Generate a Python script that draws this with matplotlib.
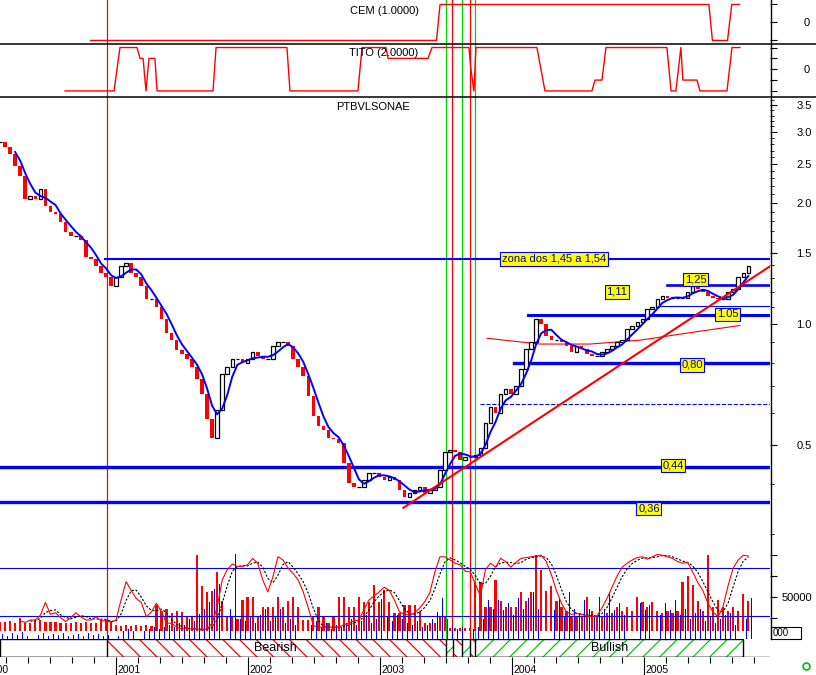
import numpy as np
import pandas as pd
import matplotlib
matplotlib.use('Agg')
import matplotlib.pyplot as plt
from matplotlib.lines import Line2D
from matplotlib.patches import Rectangle
from matplotlib.ticker import FixedLocator, FixedFormatter, NullFormatter

plt.rcParams['font.family'] = ['Liberation Sans', 'DejaVu Sans']
plt.rcParams['hatch.linewidth'] = 0.9

# ---- data (one value every 14 days) ----
close = [2.84, 2.75, 2.65, 2.47, 2.33, 2.04, 2.08, 2.04, 2.16, 1.96,
         1.90, 1.88, 1.79, 1.69, 1.65, 1.65, 1.62, 1.47, 1.45, 1.39,
         1.34, 1.31, 1.24, 1.31, 1.39, 1.42, 1.34, 1.31, 1.24, 1.15,
         1.15, 1.10, 1.03, 0.95, 0.91, 0.86, 0.84, 0.815, 0.78, 0.73,
         0.67, 0.58, 0.52, 0.61, 0.75, 0.78, 0.815, 0.815, 0.80, 0.815,
         0.85, 0.83, 0.815, 0.815, 0.88, 0.90, 0.90, 0.88, 0.815, 0.78,
         0.74, 0.66, 0.59, 0.555, 0.545, 0.52, 0.515, 0.506, 0.451, 0.402,
         0.393, 0.393, 0.409, 0.426, 0.426, 0.416, 0.409, 0.416, 0.409, 0.386,
         0.371, 0.379, 0.386, 0.393, 0.379, 0.386, 0.393, 0.433, 0.478, 0.486,
         0.478, 0.459, 0.467, 0.467, 0.472, 0.49, 0.567, 0.622, 0.60, 0.67,
         0.686, 0.67, 0.70, 0.77, 0.863, 0.90, 1.025, 1.00, 0.93, 0.91,
         0.91, 0.90, 0.88, 0.85, 0.88, 0.863, 0.84, 0.83, 0.83, 0.85,
         0.863, 0.88, 0.90, 0.91, 0.968, 0.985, 1.008, 1.025, 1.087, 1.10,
         1.15, 1.17, 1.16, 1.16, 1.16, 1.16, 1.20, 1.24, 1.22, 1.20,
         1.17, 1.16, 1.15, 1.15, 1.20, 1.22, 1.31, 1.34, 1.39]

osc = [np.nan, np.nan, np.nan, np.nan, 14, 12, 15, 15, 21, 37,
       22, 24, 18, 13, 18, 24, 19, 15, 15, 19,
       14, 14, 12, 15, 40, 63, 52, 42, 37, 19,
       25, 36, 25, 11, 11, 6, 4, 4, 4, 4,
       2, 4, 11, 31, 65, 78, 85, 82, 82, 84,
       92, 86, 65, 50, 69, 94, 90, 80, 73, 65,
       50, 30, 8, 6, 6, 6, 6, 6, 9, 11,
       14, 15, 28, 40, 45, 50, 56, 52, 40, 25,
       22, 21, 24, 30, 38, 49, 75, 94, 94, 90,
       86, 84, 76, 75, 60, 45, 78, 86, 81, 92,
       88, 81, 87, 92, 93, 94, 95, 96, 88, 72,
       52, 36, 25, 22, 23, 22, 20, 19, 20, 30,
       42, 56, 70, 81, 86, 90, 93, 94, 91, 94,
       97, 96, 94, 92, 88, 86, 87, 75, 62, 52,
       36, 25, 19, 32, 58, 80, 90, 96, 95]

# volume in thousands of shares
vol_red = [11, 11, 12, 10, 16, 10, 10, 13, 13, 11,
           11, 11, 10, 10, 10, 11, 10, 11, 10, 10,
           13, 13, 12, 7, 6, 7, 6, 7, 6, 7,
           6, 31, 24, 26, 22, 24, 23, 17, 17, 91,
           53, 46, 48, 70, 36, 17, 17, 14, 37, 41,
           41, 17, 29, 29, 29, 41, 29, 36, 41, 29,
           13, 13, 17, 29, 17, 10, 17, 41, 41, 29,
           29, 41, 34, 34, 55, 34, 49, 34, 22, 22,
           31, 31, 31, 24, 10, 10, 10, 17, 17, 4,
           4, 4, 4, 4, 58, 58, 29, 29, 61, 36,
           29, 29, 29, 46, 36, 46, 91, 73, 48, 53,
           36, 29, 24, 17, 17, 17, 41, 24, 17, 17,
           22, 22, 29, 24, 29, 24, 41, 34, 29, 34,
           24, 22, 24, 22, 24, 58, 65, 55, 36, 24,
           91, 29, 37, 29, 24, 29, 24, 44, 36]

vol_blue = [6, 4, 7, 5, 8, 4, 6, 5, 7, 4,
            6, 5, 7, 4, 5, 6, 4, 7, 5, 6,
            4, 5, 7, 4, 10, 12, 10, 12, 10, 12,
            14, 12, 14, 17, 14, 19, 17, 24, 22, 30,
            36, 44, 59, 65, 101, 36, 101, 24, 22, 26,
            19, 29, 36, 22, 26, 36, 19, 24, 17, 14,
            19, 17, 22, 14, 19, 12, 17, 14, 19, 24,
            17, 22, 29, 19, 24, 48, 26, 22, 29, 24,
            19, 17, 22, 14, 17, 24, 32, 49, 24, 17,
            12, 14, 10, 12, 14, 24, 46, 36, 47, 34,
            43, 29, 49, 36, 49, 56, 36, 29, 43, 34,
            48, 26, 56, 36, 31, 46, 36, 29, 50, 36,
            56, 34, 43, 29, 48, 36, 43, 34, 41, 48,
            29, 43, 34, 46, 29, 36, 24, 31, 36, 22,
            26, 19, 24, 29, 31, 17, 46, 24, 49]

dates = pd.date_range('2000-02-15', periods=len(close), freq='14D')

# indicator panels (fractional years, values)
cem_t = [2000.811, 2003.431, 2003.458, 2005.495, 2005.522, 2005.636, 2005.668, 2005.727]
cem_v = [-1, -1, 1, 1, -1, -1, 1, 1]
tito_t = [2000.617, 2000.988, 2001.033, 2001.162, 2001.185, 2001.208, 2001.230, 2001.253,
          2001.298, 2001.314, 2001.738, 2001.761, 2002.298, 2002.321, 2002.836, 2002.867,
          2003.048, 2003.064, 2003.367, 2003.397, 2003.677, 2003.692, 2003.715, 2003.730,
          2004.192, 2004.253, 2004.609, 2004.632, 2004.685, 2004.715, 2005.177, 2005.208,
          2005.245, 2005.283, 2005.298, 2005.405, 2005.427, 2005.632, 2005.670, 2005.730]
tito_v = [-1, -1, 1, 1, 0.5, 0.5, -1, 0.5,
          0.5, -1, -1, 1, 1, -1, -1, 1,
          1, 0.5, 0.5, 1, 1, 0, -1, 1,
          1, -1, -1, -0.5, -0.5, 1, 1, -1,
          -1, 1, -0.5, -0.5, -1, -1, 1, 1]

# support / resistance lines
level_vals = [1.45, 1.25, 1.11, 1.05, 0.80, 0.63, 0.44, 0.36]
level_start = [2000.92, 2005.177, 2005.124, 2004.124, 2004.018, 2003.761, 2000.124, 2000.124]
label_text = ['zona dos 1,45 a 1,54', '1,25', '1,11', '1.05', '0,80', '0,44', '0,36']
label_t = [2004.321, 2005.397, 2004.799, 2005.639, 2005.367, 2005.223, 2005.041]
label_p = [1.45, 1.29, 1.20, 1.055, 0.79, 0.443, 0.346]

trend_t = [2003.18, 2005.958]
trend_p = [0.348, 1.39]
curve_t = [2003.814, 2004.215, 2004.594, 2004.973, 2005.352, 2005.73]
curve_p = [0.92, 0.89, 0.89, 0.91, 0.95, 0.99]

vline_t = [2000.935, 2003.503, 2003.548, 2003.624, 2003.685, 2003.723]
vline_c = ['#ff0000', '#00d000', '#ff0000', '#00d000', '#ff0000', '#00d000']

band_t = [2000.124, 2000.935, 2003.503, 2003.556, 2003.624, 2003.685, 2003.723, 2005.753]
band_kind = ['none', 'bear', 'bull', 'bear', 'bull', 'bear', 'bull']

years = [2000, 2001, 2002, 2003, 2004, 2005]

# ---- layout ----
W, H = 816, 675
T0, T1 = 2000.124, 2005.958
RED, GREEN, BLUE = '#ff0000', '#00d000', '#0000ff'


def fx(px):
    return px / W


def fy(px):
    return 1 - px / H


fig = plt.figure(figsize=(W / 100, H / 100), dpi=100)
ax_cem = fig.add_axes([0, fy(43.5), fx(770), 43.5 / H])
ax_tito = fig.add_axes([0, fy(97), fx(770), (97 - 43.5) / H])
ax_p = fig.add_axes([0, fy(639), fx(770), (639 - 97) / H])
ax_v = fig.add_axes([0, fy(639), fx(770), 94 / H])
ax_o = fig.add_axes([0, fy(639), fx(770), 94 / H])
ax_b = fig.add_axes([0, fy(657), fx(770), 18 / H])

for ax in [ax_cem, ax_tito, ax_p, ax_v, ax_o, ax_b]:
    ax.set_xlim(T0, T1)
    ax.patch.set_alpha(0)
    for s in ax.spines.values():
        s.set_visible(False)
    ax.tick_params(axis='x', bottom=False, labelbottom=False)

t = np.asarray(dates.year + (dates.dayofyear - 1) / 365.25)
close = np.array(close)

# vertical event lines
for ax in [ax_cem, ax_tito, ax_p]:
    for vt, vc in zip(vline_t, vline_c):
        ax.axvline(vt, color=vc, lw=0.9)

# CEM panel
ax_cem.plot(cem_t, cem_v, color=RED, lw=1)
ax_cem.set_ylim(-1.17, 1.25)
ax_cem.yaxis.tick_right()
ax_cem.set_yticks([-1, 0, 1], ['', '0', ''])
ax_cem.tick_params(axis='y', length=5, pad=19, labelsize=8)

# TITO panel
ax_tito.plot(tito_t, tito_v, color=RED, lw=1)
ax_tito.set_ylim(-1.28, 1.186)
ax_tito.yaxis.tick_right()
ax_tito.set_yticks([-1, -0.5, 0, 0.5, 1], ['', '', '0', '', ''])
ax_tito.tick_params(axis='y', length=5, pad=19, labelsize=8)

# price panel
ax_p.set_yscale('log')
ax_p.set_ylim(0.164, 3.67)
opn = np.r_[close[0], close[:-1]]
up = close >= opn
w = 0.027
ax_p.bar(t[up], (close - opn)[up], bottom=opn[up], width=w,
         facecolor='white', edgecolor='black', lw=0.9, zorder=3)
ax_p.bar(t[~up], (opn - close)[~up], bottom=close[~up], width=w,
         color=RED, lw=0, zorder=3)
ma = pd.Series(close).rolling(4).mean()
ax_p.plot(t, ma, color=BLUE, lw=1.4, zorder=4)

lw_lv = [1.5, 1.9, 0.8, 2.2, 2.4, 0.8, 2.4, 2.4]
ls_lv = ['-', '-', '-', '-', '-', '--', '-', '-']
for lv, st, lw, ls in zip(level_vals, level_start, lw_lv, ls_lv):
    ax_p.plot([st, T1], [lv, lv], color=BLUE, lw=lw, ls=ls, zorder=2)

ax_p.plot(trend_t, trend_p, color=RED, lw=1.5, zorder=5)
ax_p.plot(curve_t, curve_p, color=RED, lw=0.8, zorder=2)

for txt, lt, lp in zip(label_text, label_t, label_p):
    ax_p.text(lt, lp, txt, ha='center', va='center', fontsize=8, color='#0000a0', zorder=6,
              bbox=dict(boxstyle='square,pad=0.15', fc='#ffff00', ec=BLUE, lw=0.8))

major = [0.5, 1.0, 1.5, 2.0, 2.5, 3.0, 3.5]
minor = [0.3, 0.4, 0.6, 0.7, 0.8, 0.9, 1.1, 1.2, 1.3, 1.4, 1.6, 1.7, 1.8, 1.9,
         2.1, 2.2, 2.3, 2.4, 2.6, 2.7, 2.8, 2.9, 3.1, 3.2, 3.3, 3.4, 3.6]
ax_p.yaxis.tick_right()
ax_p.yaxis.set_major_locator(FixedLocator(major))
ax_p.yaxis.set_major_formatter(FixedFormatter(['%.1f' % m for m in major]))
ax_p.yaxis.set_minor_locator(FixedLocator(minor))
ax_p.yaxis.set_minor_formatter(NullFormatter())
ax_p.tick_params(axis='y', which='major', length=5, pad=14, labelsize=8)
ax_p.tick_params(axis='y', which='minor', length=3)
fig.text(fx(373), fy(107), 'PTBVLSONAE', ha='center', va='center', fontsize=8)
fig.text(fx(384), fy(11), 'CEM (1.0000)', ha='center', va='center', fontsize=8)
fig.text(fx(384), fy(53), 'TITO (2.0000)', ha='center', va='center', fontsize=8)

# volume panel
ax_v.set_ylim(0, 111.9)
ax_v.bar(t, vol_red, bottom=9.5, width=0.017, color=RED, lw=0)
ax_v.bar(t + 0.021, vol_blue, width=0.007, color=BLUE, lw=0)
ax_v.yaxis.tick_right()
ax_v.set_yticks([25, 50, 75, 100], ['', '50000', '', ''])
ax_v.tick_params(axis='y', length=5, pad=3, labelsize=8)

# stochastic oscillator
ax_o.set_ylim(-8.75, 108.75)
ax_o.axhline(80, color=BLUE, lw=0.8)
ax_o.axhline(20, color=BLUE, lw=0.8)
ax_o.plot(t, pd.Series(osc).rolling(3).mean(), color='black', lw=0.8, ls=(0, (2, 1.5)))
ax_o.plot(t, osc, color=RED, lw=0.8)
ax_o.set_yticks([])

# bearish / bullish band
ax_b.set_ylim(0, 1)
ax_b.set_yticks([])
for k in range(len(band_kind)):
    x0, x1 = band_t[k], band_t[k + 1]
    if band_kind[k] == 'bear':
        ax_b.add_patch(Rectangle((x0, 0), x1 - x0, 1, fill=False, hatch='\\\\', ec=RED, lw=0))
    elif band_kind[k] == 'bull':
        ax_b.add_patch(Rectangle((x0, 0), x1 - x0, 1, fill=False, hatch='//', ec=GREEN, lw=0))
ax_b.add_patch(Rectangle((band_t[0], 0), band_t[-1] - band_t[0], 1, fill=False, ec='black', lw=1))
ax_b.vlines(band_t[1:-1], 0, 1, color='black', lw=1)
ax_b.axhline(0, color='black', lw=1)
ax_b.text(2002.21, 0.5, 'Bearish', ha='center', va='center', fontsize=9)
ax_b.text(2004.74, 0.5, 'Bullish', ha='center', va='center', fontsize=9)

# date ticks under the band
minor_t = [y + m / 12 for y in years for m in (2, 4, 6, 8, 10)]
minor_t = [m for m in minor_t if T0 < m < T1]
ax_b.vlines(minor_t, -0.33, 0, color='black', lw=0.8, clip_on=False)
ax_b.vlines(years, -1.0, 0, color='black', lw=0.8, clip_on=False)
for yr in years:
    ax_b.text(yr + 2 / 132, -0.7, str(yr), ha='left', va='center', fontsize=7.5, clip_on=False)

# frame lines
fig.add_artist(Line2D([0, 1], [fy(43.5), fy(43.5)], color='black', lw=1.1))
fig.add_artist(Line2D([0, 1], [fy(97), fy(97)], color='black', lw=1.1))
fig.add_artist(Line2D([fx(770.5), fx(770.5)], [fy(639), 1], color='black', lw=1))
fig.add_artist(Rectangle((fx(770.5), fy(639)), 30 / W, 12 / H, fill=False, ec='black', lw=0.8))
fig.text(fx(773), fy(633), '000', ha='left', va='center', fontsize=7)
fig.add_artist(Line2D([fx(806)], [fy(666)], marker='o', mfc='none', mec='#00c000', ms=5, mew=1.2))

fig.savefig('out.png', dpi=100)
